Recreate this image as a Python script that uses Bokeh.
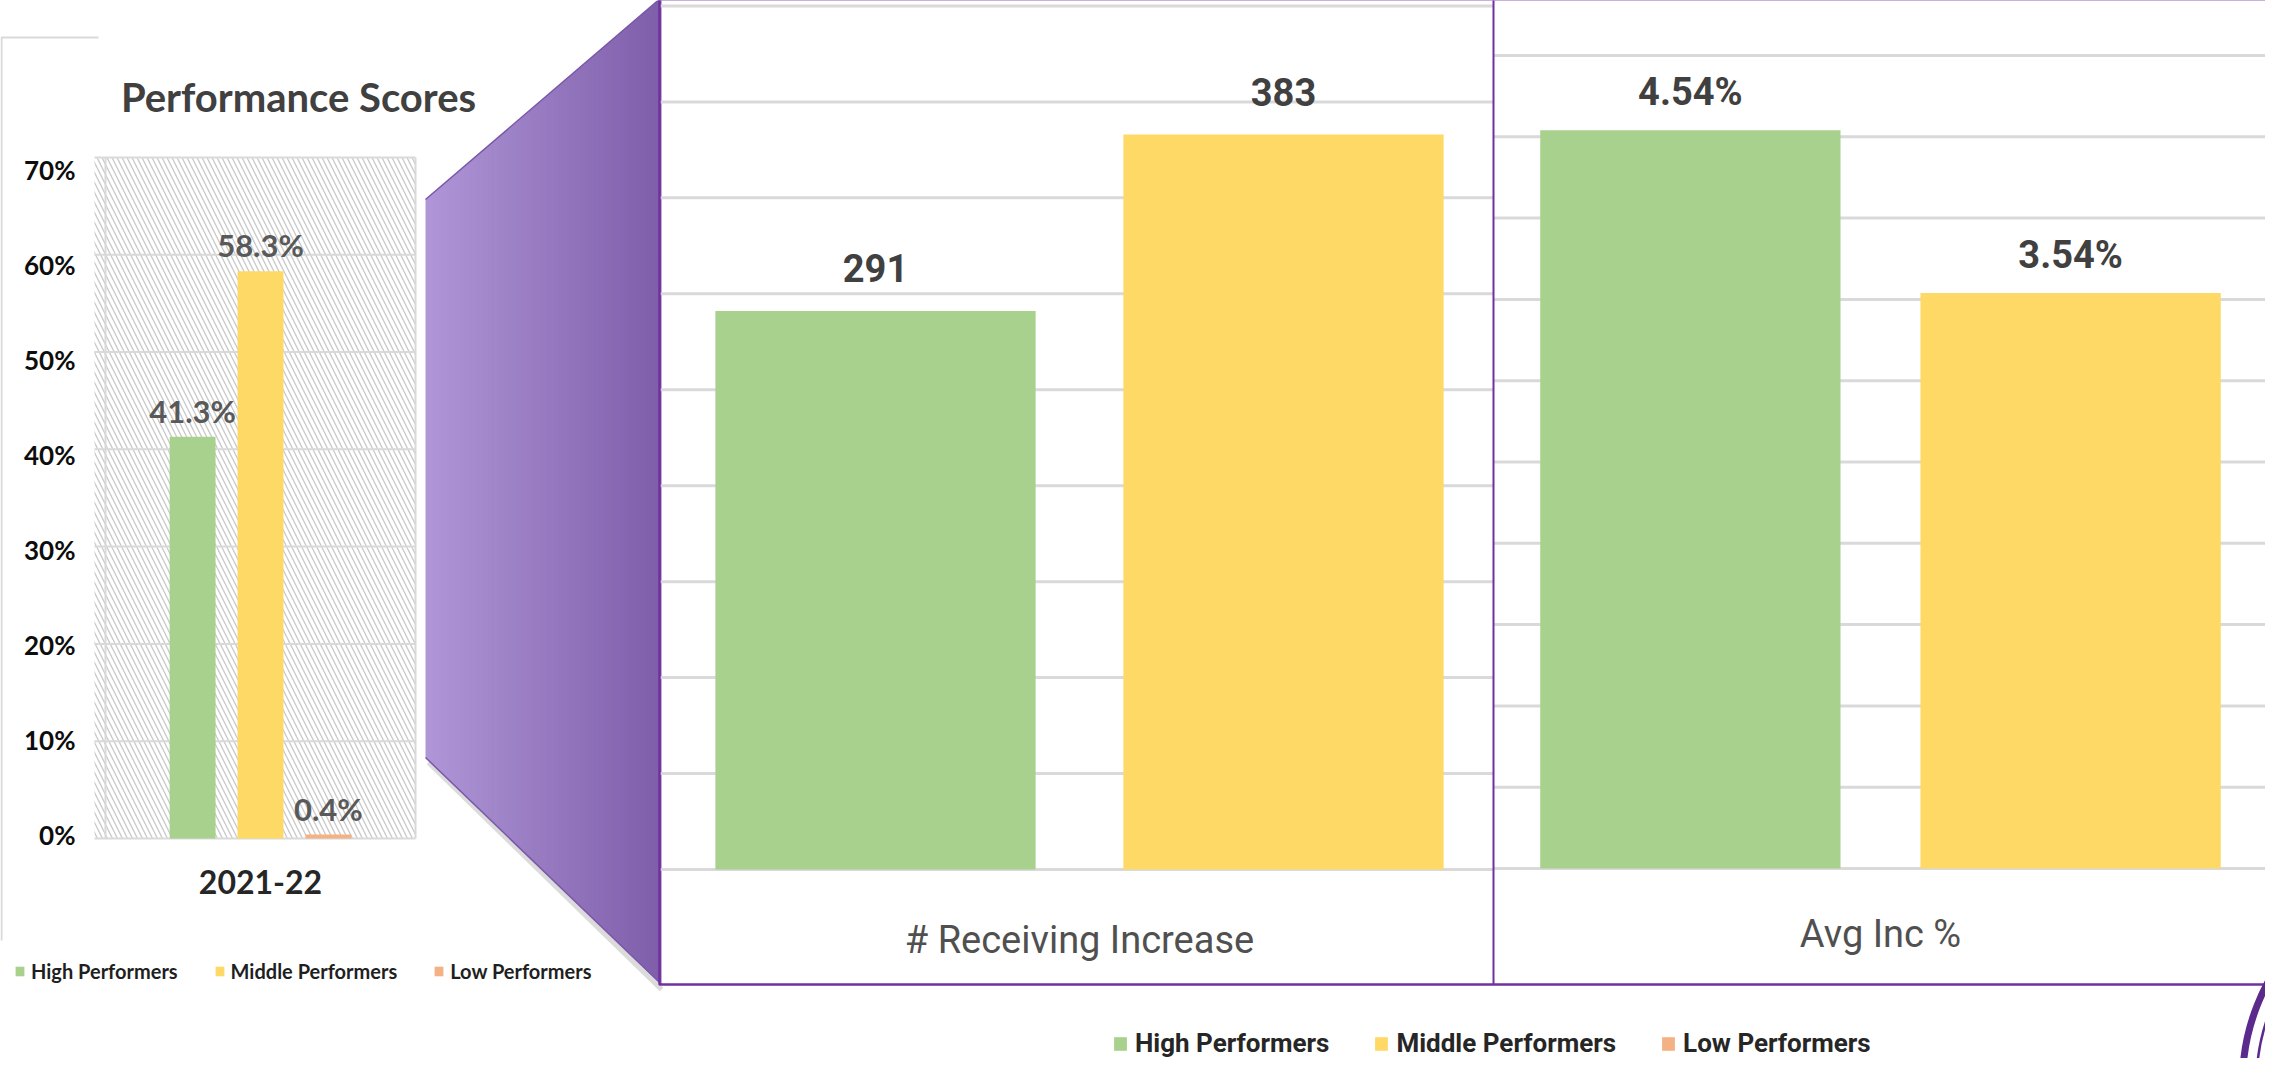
import numpy as np
from bokeh.plotting import figure
from bokeh.models import Range1d, ColumnDataSource, Legend, LegendItem
from bokeh.core.properties import value
from bokeh.embed import file_html
from bokeh.resources import INLINE

# ---------------- data ----------------
series = ["High Performers", "Middle Performers", "Low Performers"]
series_colors = ["#A9D18E", "#FFD966", "#F4B183"]

left_title = "Performance Scores"
left_categories = ["2021-22"]
left_values = [41.3, 58.3, 0.4]
left_value_labels = ["41.3%", "58.3%", "0.4%"]
left_ticks = [0, 10, 20, 30, 40, 50, 60, 70]
left_tick_labels = ["0%", "10%", "20%", "30%", "40%", "50%", "60%", "70%"]

count_categories = ["# Receiving Increase"]
count_values = [291, 383]
count_value_labels = ["291", "383"]
count_ticks = [0, 50, 100, 150, 200, 250, 300, 350, 400, 450]

pct_categories = ["Avg Inc %"]
pct_values = [4.54, 3.54]
pct_value_labels = ["4.54%", "3.54%"]
pct_ticks = [0, 0.5, 1.0, 1.5, 2.0, 2.5, 3.0, 3.5, 4.0, 4.5, 5.0]

# ---------------- layout (page pixels) ----------------
W, H = 2265, 1058
OX, OY = 8, 8
COND = "Roboto"
PURPLE = "#7030A0"
GRID = "#D9D9D9"

p = figure(width=W, height=H, x_range=Range1d(OX, OX + W), y_range=Range1d(OY + H, OY),
           output_backend="svg", toolbar_location=None, min_border=0,
           x_axis_location=None, y_axis_location=None)
p.grid.visible = False
p.outline_line_color = None
p.background_fill_color = "white"
p.border_fill_color = "white"


def xr(center_px, unit_px):
    return Range1d((OX - center_px) / unit_px, (OX + W - center_px) / unit_px)


def yr(zero_px, unit_px):
    return Range1d((zero_px - (OY + H)) / unit_px, (zero_px - OY) / unit_px)


p.extra_x_ranges = {"Lx": xr(268, 310), "Mx": xr(1087, 834), "Rx": xr(1888, 776)}
p.extra_y_ranges = {"Ly": yr(846, 9.73), "Lt": yr(842, 9.5),
                    "My": yr(877, 1.919), "Ry": yr(876, 162.6)}

# ---------------- left chart background ----------------
p.line([9, 9, 106], [948, 45, 45], line_color=GRID, line_width=2)
p.quad(left=[102], right=[423], top=[165], bottom=[846], fill_color="white",
       hatch_pattern="\\", hatch_color="#C8C8C8", hatch_scale=10, hatch_weight=1.3,
       line_color=None)
p.segment(x0=[102] * len(left_ticks), x1=[423] * len(left_ticks), y0=left_ticks, y1=left_ticks,
          y_range_name="Ly", line_color=GRID, line_width=2)
p.segment(x0=[113, 423], x1=[113, 423], y0=[0, 0], y1=[left_ticks[-1]] * 2,
          y_range_name="Ly", line_color=GRID, line_width=2)

# ---------------- zoom connector (gradient polygon) ----------------
PX0, PX1 = 433, 669
TOP0, TOP1 = 207, 5
BOT0, BOT1 = 765, 992
c0 = np.array([176, 151, 216])
c1 = np.array([127, 94, 170])
N = 90
xs, ys, cols = [], [], []
for k in range(N):
    a = k / N
    b = min((k + 1.6) / N, 1.0)
    xa = PX0 + (PX1 - PX0) * a
    xb = PX0 + (PX1 - PX0) * b
    ta = TOP0 + (TOP1 - TOP0) * a
    tb = TOP0 + (TOP1 - TOP0) * b
    ba = BOT0 + (BOT1 - BOT0) * a
    bb = BOT0 + (BOT1 - BOT0) * b
    xs.append([xa, xb, xb, xa])
    ys.append([ta, tb, bb, ba])
    c = (c0 + (c1 - c0) * (k + 0.5) / N).astype(int)
    cols.append("#%02x%02x%02x" % tuple(c))
p.line([PX0 + 3, PX1], [BOT0 + 5, BOT1 + 5], line_color="#999999", line_alpha=0.35, line_width=5)
p.patches(xs, ys, fill_color=cols, line_color=None)
p.line([PX0, PX1], [TOP0, TOP1], line_color="#7A58A8", line_width=1.5)
p.line([PX0, PX1], [BOT0, BOT1], line_color="#7A58A8", line_width=1.5)

# ---------------- middle / right gridlines ----------------
p.segment(x0=[667] * len(count_ticks), x1=[1501] * len(count_ticks), y0=count_ticks, y1=count_ticks,
          y_range_name="My", line_color=GRID, line_width=3)
p.segment(x0=[1501] * len(pct_ticks), x1=[2290] * len(pct_ticks), y0=pct_ticks, y1=pct_ticks,
          y_range_name="Ry", line_color=GRID, line_width=3)

# ---------------- bars ----------------
L_OFF, L_W = [-0.219, 0.0, 0.219], 0.148
M_OFF, M_W = [-0.2446, 0.2446], 0.384
R_OFF, R_W = [-0.245, 0.245], 0.387

left_renderers = []
for i, (s, c) in enumerate(zip(series, series_colors)):
    src = ColumnDataSource(dict(x=[left_categories.index("2021-22") + L_OFF[i]], top=[left_values[i]],
                                label=[left_value_labels[i]]))
    r = p.vbar(x="x", top="top", bottom=0, width=L_W, source=src, fill_color=c, line_color=None,
               x_range_name="Lx", y_range_name="Ly")
    left_renderers.append(r)
    p.text(x="x", y="top", text="label", source=src, x_range_name="Lx", y_range_name="Ly",
           y_offset=-26, text_align="center", text_baseline="alphabetic",
           text_font=value("Lato"), text_font_style="bold", text_font_size="31px", text_color="#595959")

for i in range(2):
    src = ColumnDataSource(dict(x=[0 + M_OFF[i]], top=[count_values[i]], label=[count_value_labels[i]]))
    p.vbar(x="x", top="top", bottom=0, width=M_W, source=src, fill_color=series_colors[i], line_color=None,
           x_range_name="Mx", y_range_name="My")
    p.text(x="x", y="top", text="label", source=src, x_range_name="Mx", y_range_name="My",
           y_offset=-43, text_align="center", text_baseline="alphabetic",
           text_font=value(COND), text_font_style="bold", text_font_size="38px", text_color="#404040")

    src2 = ColumnDataSource(dict(x=[0 + R_OFF[i]], top=[pct_values[i]], label=[pct_value_labels[i]]))
    p.vbar(x="x", top="top", bottom=0, width=R_W, source=src2, fill_color=series_colors[i], line_color=None,
           x_range_name="Rx", y_range_name="Ry")
    p.text(x="x", y="top", text="label", source=src2, x_range_name="Rx", y_range_name="Ry",
           y_offset=-38, text_align="center", text_baseline="alphabetic",
           text_font=value(COND), text_font_style="bold", text_font_size="38px", text_color="#404040")

# ---------------- frames ----------------
p.line([2290, 667, 667, 2290], [7, 7, 992, 992], line_color=PURPLE, line_width=2.5)
p.line([1501, 1501], [7, 992], line_color=PURPLE, line_width=2)

# logo fragment (bottom right)
p.circle(x=[2460], y=[1090], radius=210, fill_color=None, line_color="#5B2A8C", line_width=7)
p.circle(x=[2460], y=[1090], radius=196, fill_color=None, line_color="#5B2A8C", line_width=2.5)

# ---------------- texts ----------------
p.text(x=[306], y=[104], text=[left_title], text_align="center", text_baseline="alphabetic",
       text_font=value("Lato"), text_font_style="bold", text_font_size="40px", text_color="#404040")
p.text(x=[83] * len(left_ticks), y=left_ticks, text=left_tick_labels, y_range_name="Lt",
       text_align="right", text_baseline="middle",
       text_font=value("Lato"), text_font_style="bold", text_font_size="26px", text_color="#0D0D0D")
p.text(x=[0], y=[889], text=left_categories, x_range_name="Lx", text_align="center",
       text_baseline="alphabetic", text_font=value("Lato"), text_font_style="bold",
       text_font_size="32px", text_color="#262626")
p.text(x=[0], y=[947], text=count_categories, x_range_name="Mx", text_align="center",
       text_baseline="alphabetic", text_font=value(COND), text_font_size="38px", text_color="#505050")
p.text(x=[0], y=[941], text=pct_categories, x_range_name="Rx", text_align="center",
       text_baseline="alphabetic", text_font=value(COND), text_font_size="38px", text_color="#505050")

# ---------------- legends ----------------
leg_left = Legend(items=[LegendItem(label=s, renderers=[r]) for s, r in zip(series, left_renderers)],
                  orientation="horizontal", location=(14, 75), glyph_width=11, glyph_height=12,
                  label_standoff=6, spacing=36, padding=0, margin=0, border_line_color=None,
                  background_fill_alpha=0, label_text_font="Lato", label_text_font_style="bold",
                  label_text_font_size="20px", label_text_color="#1F1F1F")
p.add_layout(leg_left)

leg_bottom = Legend(items=[LegendItem(label=s, renderers=[r]) for s, r in zip(series, left_renderers)],
                    orientation="horizontal", location=(1112, 0), glyph_width=16, glyph_height=17,
                    label_standoff=7, spacing=44, padding=0, margin=0, border_line_color=None,
                    background_fill_alpha=0, label_text_font=COND, label_text_font_style="bold",
                    label_text_font_size="26px", label_text_color="#262626")
p.add_layout(leg_bottom)

open("out.html", "w").write(file_html(p, INLINE, title="Performance Scores"))
